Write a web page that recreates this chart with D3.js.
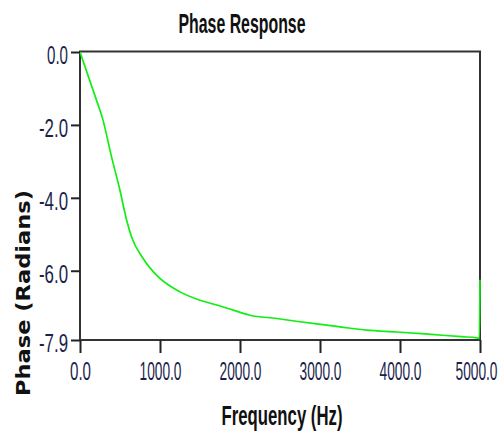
<!DOCTYPE html>
<html>
<head>
<meta charset="utf-8">
<script src="https://cdn.jsdelivr.net/npm/d3@7"></script>
<style>
  body { margin: 0; background: #fff; }
  svg { display: block; }
</style>
</head>
<body>
<div id="chart"></div>
<script>
const FRAME_WIDTH = 502;
const FRAME_HEIGHT = 437;
const MARGINS = {left: 80, right: 22, top: 52, bottom: 97};

const VIS_WIDTH = FRAME_WIDTH - MARGINS.left - MARGINS.right;
const VIS_HEIGHT = FRAME_HEIGHT - MARGINS.top - MARGINS.bottom;

// data
const FREQ = [0, 209, 279, 396, 500, 584, 646, 791, 979, 1250, 1500, 1709, 1916, 2125,
              2459, 2750, 2959, 3250, 3584, 3959, 4354, 4771, 4960, 4992, 5000];
const PHASE = [0, -1.34, -1.80, -2.89, -3.80, -4.62, -5.08, -5.67, -6.17, -6.58, -6.81, -6.94, -7.08, -7.22,
               -7.31, -7.40, -7.46, -7.54, -7.63, -7.68, -7.74, -7.81, -7.84, -7.86, -6.25];
const X_TICKS = [0, 1000, 2000, 3000, 4000, 5000];
const Y_TICKS = [0, -2, -4, -6, -7.9];

const LINE_COLOR = "#11ee11";
const TICK_TEXT = "#1c1f4c";
const FONT = "'Liberation Sans', Arial, sans-serif";

// tall narrow labels: squeeze text into a fixed width
function squeezeWidth(s) {
    let w = 0;
    for (const c of s) w += (c === ".") ? 5 : 8;
    return w;
}
const fmt = (d) => d.toFixed(1);

const FRAME = d3.select("#chart")
        .append("svg")
            .attr("width", FRAME_WIDTH)
            .attr("height", FRAME_HEIGHT);

const X_SCALE = d3.scaleLinear()
        .domain([0, 5000])
        .range([0, VIS_WIDTH]);

const Y_SCALE = d3.scaleLinear()
        .domain([-7.9, 0])
        .range([VIS_HEIGHT, 0]);

const PLOT = FRAME.append("g")
        .attr("transform", "translate(" + MARGINS.left + "," + MARGINS.top + ")");

// plot border
PLOT.append("rect")
    .attr("x", 0)
    .attr("y", -0.5)
    .attr("width", VIS_WIDTH)
    .attr("height", VIS_HEIGHT + 0.5)
    .attr("fill", "none")
    .attr("stroke", "#333")
    .attr("stroke-width", 2);

// the phase curve
const points = FREQ.map((f, i) => ({f: f, p: PHASE[i]}));
PLOT.append("path")
    .datum(points)
    .attr("fill", "none")
    .attr("stroke", LINE_COLOR)
    .attr("stroke-width", 1.7)
    .attr("d", d3.line()
        .curve(d3.curveMonotoneX)
        .x((d) => X_SCALE(d.f))
        .y((d) => Y_SCALE(d.p)));

// x axis
const xAxis = PLOT.append("g")
    .attr("transform", "translate(0," + VIS_HEIGHT + ")")
    .call(d3.axisBottom(X_SCALE).tickValues(X_TICKS).tickFormat(fmt)
        .tickSize(13).tickPadding(8));

// y axis
const yAxis = PLOT.append("g")
    .call(d3.axisLeft(Y_SCALE).tickValues(Y_TICKS).tickFormat(fmt)
        .tickSize(9).tickPadding(3));

[xAxis, yAxis].forEach((ax) => {
    ax.select(".domain").remove();
    ax.selectAll(".tick line").attr("stroke", "#222").attr("stroke-width", 2);
    ax.selectAll(".tick text")
        .attr("fill", TICK_TEXT)
        .attr("textLength", function() { return Math.min(42, squeezeWidth(this.textContent)); })
        .attr("lengthAdjust", "spacingAndGlyphs")
        .style("font-family", FONT)
        .style("font-size", "26px");
});
yAxis.selectAll(".tick text").attr("dy", "0.45em");
xAxis.selectAll(".tick text").attr("dy", "0.72em");

// last x label sits against the right edge, keep it inside
xAxis.selectAll(".tick text")
    .filter((d) => d === 5000)
    .attr("text-anchor", "end")
    .attr("x", 17);

// title
FRAME.append("text")
    .attr("x", 242)
    .attr("y", 33)
    .attr("text-anchor", "middle")
    .attr("fill", "#111")
    .attr("textLength", 127)
    .attr("lengthAdjust", "spacingAndGlyphs")
    .style("font-family", FONT)
    .style("font-weight", "bold")
    .style("font-size", "28px")
    .text("Phase Response");

// x label
FRAME.append("text")
    .attr("x", 282)
    .attr("y", 425)
    .attr("text-anchor", "middle")
    .attr("fill", "#111")
    .attr("textLength", 121)
    .attr("lengthAdjust", "spacingAndGlyphs")
    .style("font-family", FONT)
    .style("font-weight", "bold")
    .style("font-size", "27px")
    .text("Frequency (Hz)");

// y label
FRAME.append("text")
    .attr("transform", "translate(30,293) rotate(-90)")
    .attr("text-anchor", "middle")
    .attr("fill", "#111")
    .attr("textLength", 206)
    .attr("lengthAdjust", "spacingAndGlyphs")
    .style("font-family", "'DejaVu Sans', Verdana, sans-serif")
    .style("font-weight", "bold")
    .style("font-size", "20px")
    .text("Phase (Radians)");
</script>
</body>
</html>
